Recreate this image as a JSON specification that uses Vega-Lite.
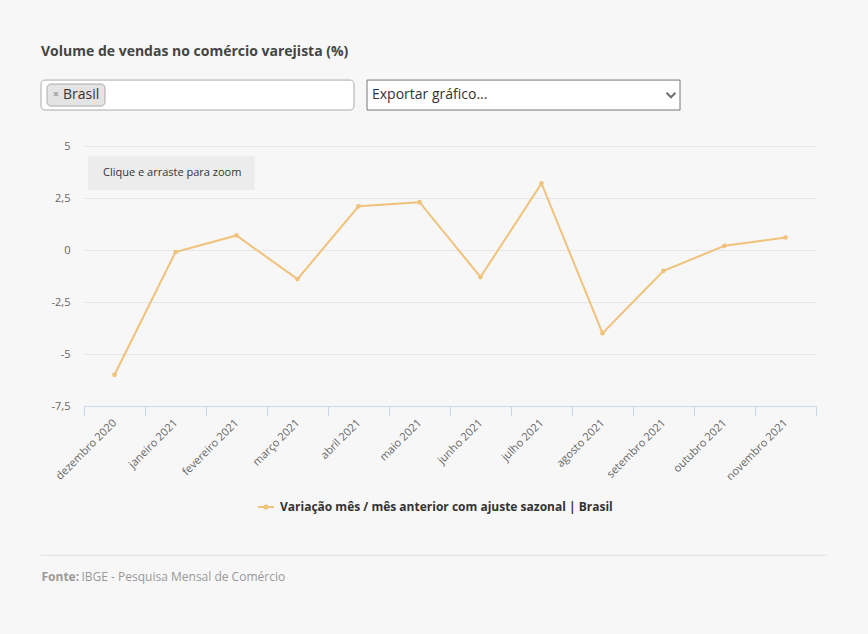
{
  "$schema": "https://vega.github.io/schema/vega-lite/v6.json",
  "width": 732,
  "height": 260,
  "autosize": {"type": "none"},
  "padding": {"left": 84, "top": 146, "right": 52, "bottom": 228},
  "background": "#f7f7f7",
  "config": {
    "font": "Open Sans",
    "view": {"stroke": null}
  },
  "title": {
    "text": "Volume de vendas no comércio varejista (%)",
    "anchor": "start",
    "frame": "group",
    "orient": "top",
    "dx": -43,
    "offset": 10,
    "baseline": "alphabetic",
    "font": "Open Sans",
    "fontSize": 14,
    "fontWeight": "bold",
    "color": "#444444"
  },
  "datasets": {
    "serie": [
      {"mes": "dezembro 2020", "valor": -6.0, "serie": "Variação mês / mês anterior com ajuste sazonal | Brasil"},
      {"mes": "janeiro 2021", "valor": -0.1, "serie": "Variação mês / mês anterior com ajuste sazonal | Brasil"},
      {"mes": "fevereiro 2021", "valor": 0.7, "serie": "Variação mês / mês anterior com ajuste sazonal | Brasil"},
      {"mes": "março 2021", "valor": -1.4, "serie": "Variação mês / mês anterior com ajuste sazonal | Brasil"},
      {"mes": "abril 2021", "valor": 2.1, "serie": "Variação mês / mês anterior com ajuste sazonal | Brasil"},
      {"mes": "maio 2021", "valor": 2.3, "serie": "Variação mês / mês anterior com ajuste sazonal | Brasil"},
      {"mes": "junho 2021", "valor": -1.3, "serie": "Variação mês / mês anterior com ajuste sazonal | Brasil"},
      {"mes": "julho 2021", "valor": 3.2, "serie": "Variação mês / mês anterior com ajuste sazonal | Brasil"},
      {"mes": "agosto 2021", "valor": -4.0, "serie": "Variação mês / mês anterior com ajuste sazonal | Brasil"},
      {"mes": "setembro 2021", "valor": -1.0, "serie": "Variação mês / mês anterior com ajuste sazonal | Brasil"},
      {"mes": "outubro 2021", "valor": 0.2, "serie": "Variação mês / mês anterior com ajuste sazonal | Brasil"},
      {"mes": "novembro 2021", "valor": 0.6, "serie": "Variação mês / mês anterior com ajuste sazonal | Brasil"}
    ]
  },
  "layer": [
    {
      "data": {"values": [{"y1": 8.17, "y2": 6.73}]},
      "mark": {"type": "rect", "fill": "#ffffff", "stroke": "#aaaaaa", "strokeWidth": 1, "cornerRadius": 4, "xOffset": -43, "x2Offset": 239.5},
      "encoding": {
        "x": {"datum": "dezembro 2020", "bandPosition": 0},
        "x2": {"datum": "dezembro 2020"},
        "y": {"field": "y1", "type": "quantitative"},
        "y2": {"field": "y2"}
      }
    },
    {
      "data": {"values": [{"y1": 7.98, "y2": 6.92}]},
      "mark": {"type": "rect", "fill": "#e4e4e4", "stroke": "#aaaaaa", "strokeWidth": 1, "cornerRadius": 4, "xOffset": -37, "x2Offset": -9.5},
      "encoding": {
        "x": {"datum": "dezembro 2020", "bandPosition": 0},
        "x2": {"datum": "dezembro 2020"},
        "y": {"field": "y1", "type": "quantitative"},
        "y2": {"field": "y2"}
      }
    },
    {
      "data": {"values": [{"y1": 8.17, "y2": 6.73}]},
      "mark": {"type": "rect", "fill": "#ffffff", "stroke": "#767676", "strokeWidth": 1, "xOffset": 283, "x2Offset": 565.5},
      "encoding": {
        "x": {"datum": "dezembro 2020", "bandPosition": 0},
        "x2": {"datum": "dezembro 2020"},
        "y": {"field": "y1", "type": "quantitative"},
        "y2": {"field": "y2"}
      }
    },
    {
      "data": {"values": [{"t": "×", "y": 7.45}]},
      "mark": {"type": "text", "align": "center", "baseline": "middle", "dx": -28, "fontSize": 11, "fontWeight": "bold", "color": "#999999", "font": "Open Sans"},
      "encoding": {
        "x": {"datum": "dezembro 2020", "bandPosition": 0},
        "y": {"field": "y", "type": "quantitative"},
        "text": {"field": "t"}
      }
    },
    {
      "data": {"values": [{"t": "Brasil", "y": 7.45}]},
      "mark": {"type": "text", "align": "left", "baseline": "middle", "dx": -21, "fontSize": 14, "color": "#333333", "font": "Open Sans"},
      "encoding": {
        "x": {"datum": "dezembro 2020", "bandPosition": 0},
        "y": {"field": "y", "type": "quantitative"},
        "text": {"field": "t"}
      }
    },
    {
      "data": {"values": [{"t": "Exportar gráfico...", "y": 7.45}]},
      "mark": {"type": "text", "align": "left", "baseline": "middle", "dx": 288, "fontSize": 14, "color": "#333333", "font": "Open Sans"},
      "encoding": {
        "x": {"datum": "dezembro 2020", "bandPosition": 0},
        "y": {"field": "y", "type": "quantitative"},
        "text": {"field": "t"}
      }
    },
    {
      "data": {"values": [{"y": 7.45}]},
      "mark": {"type": "point", "shape": "M-1,-0.5L0,0.5L1,-0.5", "size": 80, "filled": false, "stroke": "#333333", "strokeWidth": 2, "xOffset": 587},
      "encoding": {
        "x": {"datum": "dezembro 2020", "bandPosition": 0},
        "y": {"field": "y", "type": "quantitative"}
      }
    },
    {
      "data": {"values": [{"y1": 4.51, "y2": 2.88}]},
      "mark": {"type": "rect", "color": "#ececec", "xOffset": 4, "x2Offset": -43},
      "encoding": {
        "x": {"datum": "dezembro 2020", "bandPosition": 0},
        "x2": {"datum": "março 2021"},
        "y": {"field": "y1", "type": "quantitative"},
        "y2": {"field": "y2"}
      }
    },
    {
      "data": {"values": [{"t": "Clique e arraste para zoom", "y": 3.69}]},
      "mark": {"type": "text", "align": "left", "baseline": "middle", "dx": 19, "fontSize": 11, "color": "#333333", "font": "Open Sans"},
      "encoding": {
        "x": {"datum": "dezembro 2020", "bandPosition": 0},
        "y": {"field": "y", "type": "quantitative"},
        "text": {"field": "t"}
      }
    },
    {
      "data": {"values": [{"y": -14.68}]},
      "mark": {"type": "rule", "color": "#e0e0e0", "strokeWidth": 1, "xOffset": -43, "x2Offset": 41.5},
      "encoding": {
        "x": {"datum": "dezembro 2020", "bandPosition": 0},
        "x2": {"datum": "novembro 2021"},
        "y": {"field": "y", "type": "quantitative"}
      }
    },
    {
      "data": {"name": "serie"},
      "mark": {"type": "line", "strokeWidth": 2, "point": {"size": 22, "filled": true}},
      "encoding": {
        "x": {
          "field": "mes",
          "type": "nominal",
          "scale": {
            "domain": ["dezembro 2020", "janeiro 2021", "fevereiro 2021", "março 2021", "abril 2021", "maio 2021", "junho 2021", "julho 2021", "agosto 2021", "setembro 2021", "outubro 2021", "novembro 2021"],
            "type": "band",
            "paddingInner": 0,
            "paddingOuter": 0
          },
          "axis": {
            "title": "Fonte:",
            "titleFont": "Open Sans",
            "titleFontSize": 12,
            "titleFontWeight": "bold",
            "titleColor": "#999999",
            "titleX": -43,
            "titleY": 174,
            "titleAlign": "left",
            "titleAnchor": null,
            "titleBaseline": "alphabetic",
            "tickBand": "extent",
            "tickSize": 10,
            "tickColor": "#ccd6eb",
            "domainColor": "#ccd6eb",
            "labelAngle": -45,
            "labelAlign": "right",
            "labelBaseline": "middle",
            "labelPadding": 5,
            "labelFontSize": 11,
            "labelColor": "#666666",
            "labelFont": "Open Sans",
            "grid": false
          }
        },
        "y": {
          "field": "valor",
          "type": "quantitative",
          "scale": {"domain": [-7.5, 5], "nice": false, "zero": false},
          "axis": {
            "values": [-7.5, -5, -2.5, 0, 2.5, 5],
            "labelExpr": "replace(toString(datum.value), '.', ',')",
            "domain": false,
            "ticks": false,
            "labelPadding": 14,
            "labelFontSize": 11,
            "labelColor": "#666666",
            "labelFont": "Open Sans",
            "gridColor": "#e6e6e6",
            "title": "IBGE - Pesquisa Mensal de Comércio",
            "titleFont": "Open Sans",
            "titleFontSize": 12,
            "titleFontWeight": "normal",
            "titleColor": "#999999",
            "titleAngle": 0,
            "titleX": -3,
            "titleY": 434,
            "titleAlign": "left",
            "titleAnchor": null,
            "titleBaseline": "alphabetic"
          }
        },
        "color": {
          "field": "serie",
          "type": "nominal",
          "scale": {"range": ["#f0c27b"]},
          "legend": {
            "title": null,
            "orient": "none",
            "legendX": 173,
            "legendY": 352,
            "padding": 0,
            "symbolType": "M-1,0H1M-0.2,0A0.2,0.2 0 1,0 0.2,0A0.2,0.2 0 1,0 -0.2,0",
            "symbolSize": 256,
            "symbolStrokeWidth": 2,
            "symbolOffset": 0,
            "labelOffset": 5,
            "labelFont": "Open Sans",
            "labelFontSize": 12,
            "labelFontWeight": "bold",
            "labelColor": "#333333",
            "labelLimit": 500
          }
        }
      }
    }
  ]
}
